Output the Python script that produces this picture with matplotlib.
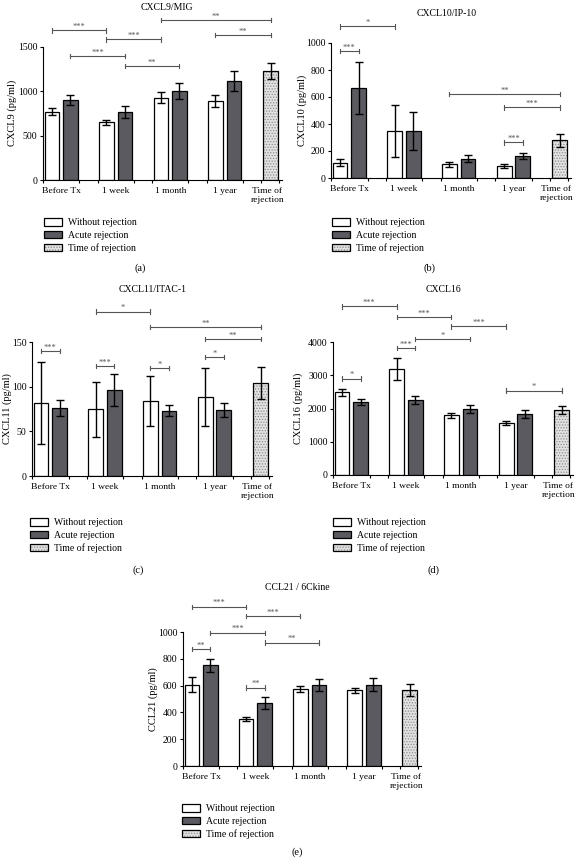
import matplotlib
matplotlib.use("Agg")
import matplotlib.pyplot as plt
import numpy as np

plt.rcParams['font.family'] = ['Liberation Serif', 'DejaVu Serif']
plt.rcParams['hatch.linewidth'] = 0.6

# ---------------- data ----------------
categories = ["Before Tx", "1 week", "1 month", "1 year"]
tor_label = "Time of\nrejection"
legend_labels = ["Without rejection", "Acute rejection", "Time of rejection"]

cxcl9_without = [770, 650, 930, 890]
cxcl9_without_err = [40, 30, 60, 70]
cxcl9_acute = [900, 765, 1000, 1115]
cxcl9_acute_err = [55, 70, 90, 110]
cxcl9_tor = 1230
cxcl9_tor_err = 95
cxcl9_sig = [("w0", "w1", 1687, "***"), ("w1", "w2", 1586, "***"),
             ("a0", "a1", 1395, "***"), ("a1", "a2", 1286, "**"),
             ("w2", "t", 1807, "**"), ("w3", "t", 1635, "**")]

cxcl10_without = [114, 347, 102, 89]
cxcl10_without_err = [25, 195, 20, 12]
cxcl10_acute = [665, 350, 144, 161]
cxcl10_acute_err = [193, 140, 25, 22]
cxcl10_tor = 278
cxcl10_tor_err = 50
cxcl10_sig = [("w0", "a0", 942, "***"), ("w0", "w1", 1123, "*"),
              ("w2", "t", 622, "**"), ("w3", "t", 523, "***"),
              ("w3", "a3", 263, "***")]

cxcl11_without = [82, 74.5, 83.5, 88.5]
cxcl11_without_err = [46, 31, 28, 32]
cxcl11_acute = [76, 96.6, 73, 74]
cxcl11_acute_err = [9, 18, 6, 8]
cxcl11_tor = 104
cxcl11_tor_err = 18
cxcl11_sig = [("w0", "a0", 140, "***"), ("w1", "w2", 184, "*"),
              ("w2", "t", 167, "**"), ("w3", "t", 153, "**"),
              ("w1", "a1", 123, "***"), ("w2", "a2", 121, "*"),
              ("w3", "a3", 133, "*")]

cxcl16_without = [2490, 3190, 1790, 1550]
cxcl16_without_err = [110, 330, 80, 60]
cxcl16_acute = [2200, 2260, 1990, 1820]
cxcl16_acute_err = [100, 130, 130, 120]
cxcl16_tor = 1960
cxcl16_tor_err = 130
cxcl16_sig = [("w0", "w1", 5070, "***"), ("w1", "w2", 4750, "***"),
              ("w2", "w3", 4470, "***"), ("a1", "a2", 4090, "*"),
              ("w1", "a1", 3810, "***"), ("w0", "a0", 2900, "*"),
              ("w3", "t", 2540, "*")]

ccl21_without = [608, 354, 575, 565]
ccl21_without_err = [57, 15, 23, 20]
ccl21_acute = [752, 473, 603, 608]
ccl21_acute_err = [50, 45, 45, 50]
ccl21_tor = 570
ccl21_tor_err = 45
ccl21_sig = [("w0", "w1", 1189, "***"), ("w1", "w2", 1120, "***"),
             ("a0", "a1", 995, "***"), ("a1", "a2", 921, "**"),
             ("w0", "a0", 874, "**"), ("w1", "a1", 585, "**")]

# ---------------- style ----------------
W, H = 579, 860
DARK = '#5a5a60'
TORC = '#e2e2e2'
SIGC = '#555555'
OFF = 0.17
BW = 0.27
TORX = 3.84

fig = plt.figure(figsize=(W / 100, H / 100), dpi=100)


def ax_px(left, right, bottom, top):
    return fig.add_axes([left / W, 1 - bottom / H, (right - left) / W, (bottom - top) / H])


def slot_x(code):
    if code == 't':
        return TORX
    g = int(code[1])
    return g - OFF if code[0] == 'w' else g + OFF


def draw_panel(ax, without, without_err, acute, acute_err, tor, tor_err, ymax, yticks, sig):
    g = np.arange(len(categories))
    ekw = dict(elinewidth=1.0, capsize=2.6, capthick=1.0, ecolor='black', zorder=4)
    b1 = ax.bar(g - OFF, without, BW, yerr=without_err, color='white', edgecolor='black',
                linewidth=0.9, error_kw=ekw, zorder=2)
    b2 = ax.bar(g + OFF, acute, BW, yerr=acute_err, color=DARK, edgecolor='black',
                linewidth=0.9, error_kw=ekw, zorder=2)
    b3 = ax.bar([TORX], [tor], BW, color=TORC, edgecolor='#8c8c8c', hatch='......',
                linewidth=0, zorder=2)
    b3o = ax.bar([TORX], [tor], BW, yerr=[tor_err], fill=False, edgecolor='black',
                 linewidth=0.9, error_kw=ekw, zorder=3)
    ax.set_ylim(0, ymax)
    ax.set_xlim(-1 / 3, 4.05)
    ax.set_yticks(yticks)
    ax.set_yticklabels([str(t) for t in yticks])
    ax.set_xticks(list(g) + [3.78])
    ax.set_xticklabels(categories + [tor_label], fontsize=6.8, linespacing=1.25)
    ax.tick_params(axis='x', which='major', length=0, pad=5)
    ax.set_xticks(np.arange(-1, 13) / 3, minor=True)
    ax.tick_params(axis='x', which='minor', length=2.5, width=0.8)
    ax.tick_params(axis='y', length=2.5, width=0.8, labelsize=7, pad=1.5)
    for s in ['top', 'right']:
        ax.spines[s].set_visible(False)
    for s in ['left', 'bottom']:
        ax.spines[s].set_linewidth(0.8)
    cap = 0.016 * ymax
    for a, b, y, stars in sig:
        x1, x2 = slot_x(a), slot_x(b)
        ax.plot([x1, x2], [y, y], color=SIGC, lw=0.8, clip_on=False, zorder=5)
        ax.plot([x1, x1], [y - cap, y + cap], color=SIGC, lw=0.8, clip_on=False, zorder=5)
        ax.plot([x2, x2], [y - cap, y + cap], color=SIGC, lw=0.8, clip_on=False, zorder=5)
        ax.annotate(stars, xy=((x1 + x2) / 2, y), xytext=(0, -0.5), textcoords='offset points',
                    ha='center', va='bottom', fontsize=6, color=SIGC, annotation_clip=False)
    return b1, b2, (b3, b3o)


def legend_at(handles, x, y):
    fig.legend(handles, legend_labels, loc='upper left',
               bbox_to_anchor=(x / W, 1 - y / H), frameon=False, fontsize=7,
               handlelength=1.85, handleheight=0.82, handletextpad=0.6,
               labelspacing=0.35, borderpad=0, borderaxespad=0)


def ftext(x, y, s, size=7, rot=0):
    fig.text(x / W, 1 - y / H, s, ha='center', va='center', fontsize=size, rotation=rot)


# (a)
ax = ax_px(43, 282, 180, 47)
h = draw_panel(ax, cxcl9_without, cxcl9_without_err, cxcl9_acute, cxcl9_acute_err,
               cxcl9_tor, cxcl9_tor_err, 1500, [0, 500, 1000, 1500], cxcl9_sig)
legend_at(h, 44, 218)
ftext(167, 7, "CXCL9/MIG")
ftext(12, 113, "CXCL9 (pg/ml)", 7.5, 90)
ftext(140, 268, "(a)", 7.5)

# (b)
ax = ax_px(331, 571, 178, 43)
h = draw_panel(ax, cxcl10_without, cxcl10_without_err, cxcl10_acute, cxcl10_acute_err,
               cxcl10_tor, cxcl10_tor_err, 1000, [0, 200, 400, 600, 800, 1000], cxcl10_sig)
legend_at(h, 332, 218)
ftext(447, 13, "CXCL10/IP-10")
ftext(302, 110, "CXCL10 (pg/ml)", 7.5, 90)
ftext(430, 268, "(b)", 7.5)

# (c)
ax = ax_px(32, 272, 476, 342)
h = draw_panel(ax, cxcl11_without, cxcl11_without_err, cxcl11_acute, cxcl11_acute_err,
               cxcl11_tor, cxcl11_tor_err, 150, [0, 50, 100, 150], cxcl11_sig)
legend_at(h, 30, 518)
ftext(153, 289, "CXCL11/ITAC-1")
ftext(7, 409, "CXCL11 (pg/ml)", 7.5, 90)
ftext(138, 570, "(c)", 7.5)

# (d)
ax = ax_px(333, 573, 475, 342)
h = draw_panel(ax, cxcl16_without, cxcl16_without_err, cxcl16_acute, cxcl16_acute_err,
               cxcl16_tor, cxcl16_tor_err, 4000, [0, 1000, 2000, 3000, 4000], cxcl16_sig)
legend_at(h, 333, 518)
ftext(443, 290, "CXCL16")
ftext(298, 408, "CXCL16 (pg/ml)", 7.5, 90)
ftext(434, 570, "(d)", 7.5)

# (e)
ax = ax_px(183, 421, 766, 632)
h = draw_panel(ax, ccl21_without, ccl21_without_err, ccl21_acute, ccl21_acute_err,
               ccl21_tor, ccl21_tor_err, 1000, [0, 200, 400, 600, 800, 1000], ccl21_sig)
legend_at(h, 182, 804)
ftext(297, 588, "CCL21 / 6Ckine")
ftext(153, 699, "CCL21 (pg/ml)", 7.5, 90)
ftext(297, 852, "(e)", 7.5)

fig.savefig("out.png", dpi=100)
